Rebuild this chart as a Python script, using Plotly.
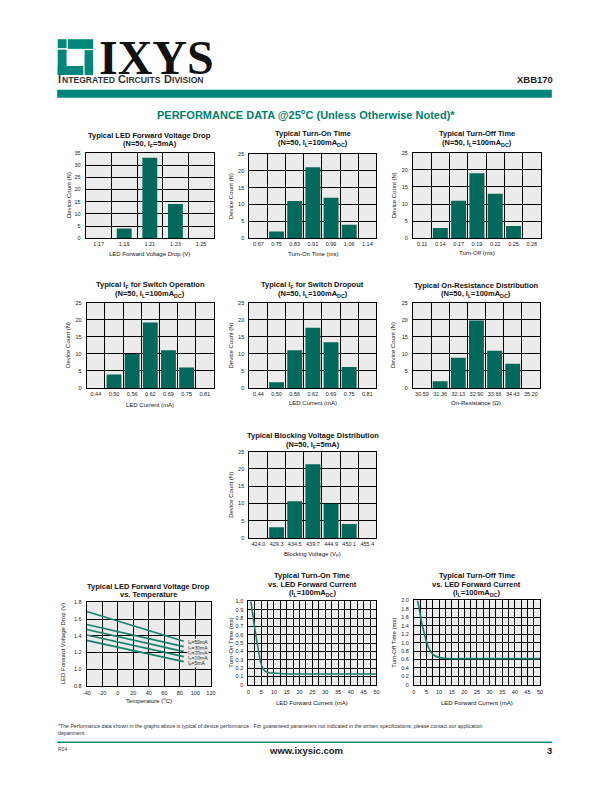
import plotly.graph_objects as go

W, H = 612, 792
TEAL = "#00877A"
TITLE_TEAL = "#00806E"
BAR = "#00695C"
LINE = "#17806F"
BG = "#EBEBEB"
FONT = "Liberation Sans, Arial, sans-serif"
NARROW = "Liberation Sans Narrow, Arial Narrow, Liberation Sans, sans-serif"

# ---------------- data ----------------
vf_cats = ["1.17", "1.19", "1.21", "1.23", "1.25"]
vf_counts = [0, 4, 33, 14, 0]

ton_cats = ["0.67", "0.75", "0.83", "0.91", "0.99", "1.06", "1.14"]
ton_counts = [0, 2, 11, 21, 12, 4, 0]

toff_cats = ["0.11", "0.14", "0.17", "0.19", "0.22", "0.25", "0.28"]
toff_counts = [0, 3, 11, 19, 13, 3.6, 0]

ifop_cats = ["0.44", "0.50", "0.56", "0.62", "0.69", "0.75", "0.81"]
ifop_counts = [0, 4, 10, 19.2, 11.1, 6, 0]

ifdrop_cats = ["0.44", "0.50", "0.56", "0.62", "0.69", "0.75", "0.81"]
ifdrop_counts = [0, 1.7, 11.1, 17.7, 13.4, 6.2, 0]

ron_cats = ["30.59", "31.36", "32.13", "32.90", "33.66", "34.43", "35.20"]
ron_counts = [0, 2, 8.9, 19.8, 10.9, 7.1, 0]

vb_cats = ["424.0", "429.3", "434.5", "439.7", "444.9", "450.1", "455.4"]
vb_counts = [0, 3.1, 10.6, 21.3, 9.9, 4, 0]

temp_c = [-40, 85]
vf_5ma = [1.345, 1.09]
vf_10ma = [1.41, 1.15]
vf_20ma = [1.475, 1.21]
vf_30ma = [1.535, 1.27]
vf_50ma = [1.69, 1.335]
vf_labels = ["I<sub>F</sub>=50mA", "I<sub>F</sub>=30mA", "I<sub>F</sub>=20mA",
             "I<sub>F</sub>=10mA", "I<sub>F</sub>=5mA"]

if_on = [1, 2, 3, 4, 5, 6, 7, 8, 10, 15, 20, 30, 40, 50]
ton_vs_if = [1.0, 0.78, 0.58, 0.40, 0.25, 0.18, 0.155, 0.145, 0.14, 0.13, 0.13, 0.13, 0.13, 0.13]

if_off = [1.4, 2, 3, 4, 5, 6, 7, 8, 10, 12, 15, 20, 30, 40, 50]
toff_vs_if = [2.0, 1.85, 1.5, 1.25, 1.02, 0.86, 0.76, 0.70, 0.65, 0.63, 0.62, 0.62, 0.62, 0.62, 0.62]


def px(x):
    return x / W


def py(y):
    return 1 - y / H


fig = go.Figure()
layout = dict(width=W, height=H, margin=dict(l=0, r=0, t=0, b=0),
              paper_bgcolor="white", plot_bgcolor=BG, showlegend=False,
              font=dict(family=FONT, color="#111"))
annotations = []
shapes = []


def ann(text, x, y, size, bold=False, color="#111", xanchor="center",
        yanchor="middle", angle=0, family=FONT, **kw):
    if bold:
        text = "<b>" + text + "</b>"
    d = dict(text=text, x=px(x), y=py(y), xref="paper", yref="paper",
             showarrow=False, xanchor=xanchor, yanchor=yanchor, borderpad=0,
             font=dict(size=size, color=color, family=family), textangle=angle)
    d.update(kw)
    annotations.append(d)


def title_lines(lines, cx, ys):
    for txt, yy in zip(lines, ys):
        ann(txt, cx, yy, 7.5, bold=True)


TICKF = dict(size=5.5, family=NARROW, color="#222")


def add_bar_chart(i, box, cats, vals, ymax, width, titles, title_ys,
                  xtitle, xtitle_y, ytitle, ytitle_x):
    l, t, r, b = box
    xa, ya = f"x{i}", f"y{i}"
    fig.add_trace(go.Bar(x=cats, y=vals, xaxis=xa, yaxis=ya, width=width,
                         marker=dict(color=BAR, line=dict(width=0))))
    layout[f"xaxis{i}"] = dict(domain=[px(l), px(r)], anchor=ya, type="category",
                               tickson="boundaries", showgrid=True, gridcolor="black",
                               gridwidth=1, showline=True, mirror=True, linecolor="black",
                               linewidth=1, ticks="outside", ticklen=1, tickangle=0,
                               tickcolor="rgba(0,0,0,0)", tickfont=TICKF,
                               fixedrange=True)
    layout[f"yaxis{i}"] = dict(domain=[py(b), py(t)], anchor=xa, range=[0, ymax],
                               tickvals=list(range(0, ymax + 1, 5)), showgrid=True,
                               gridcolor="black", gridwidth=1, zeroline=False,
                               showline=True, mirror=True, linecolor="black", linewidth=1,
                               ticks="outside", ticklen=3, tickcolor="rgba(0,0,0,0)",
                               tickfont=TICKF, fixedrange=True)
    cx = (l + r) / 2
    title_lines(titles, cx, title_ys)
    ann(xtitle, cx, xtitle_y, 6)
    ann(ytitle, ytitle_x, (t + b) / 2, 6, angle=-90)


SUB_DC = "(N=50, I<sub>L</sub>=100mA<sub>DC</sub>)"

add_bar_chart(1, (83, 151, 213, 237), vf_cats, vf_counts, 35, 0.58,
              ["Typical LED Forward Voltage Drop", "(N=50, I<sub>F</sub>=5mA)"], [133.5, 142.5],
              "LED Forward Voltage Drop (V)", 252.5, "Device Count (N)", 65.5)
add_bar_chart(2, (249, 152, 378, 237), ton_cats, ton_counts, 25, 0.82,
              ["Typical Turn-On Time", SUB_DC], [132, 141],
              "Turn-On Time (ms)", 252.5, "Device Count (N)", 230.5)
add_bar_chart(3, (415, 151, 545, 237), toff_cats, toff_counts, 25, 0.82,
              ["Typical Turn-Off Time", SUB_DC], [132, 141],
              "Turn-Off (ms)", 252, "Device Count (N)", 395.5)
add_bar_chart(4, (84, 302, 213, 388), ifop_cats, ifop_counts, 25, 0.82,
              ["Typical I<sub>F</sub> for Switch Operation", SUB_DC], [284.5, 293.5],
              "LED Current (mA)", 405, "Device Count (N)", 65.5)
add_bar_chart(5, (249, 302, 378, 388), ifdrop_cats, ifdrop_counts, 25, 0.82,
              ["Typical I<sub>F</sub> for Switch Dropout", SUB_DC], [284.5, 293.5],
              "LED Current (mA)", 403, "Device Count (N)", 230.5)
add_bar_chart(6, (415, 302, 544, 388), ron_cats, ron_counts, 25, 0.82,
              ["Typical On-Resistance Distribution", SUB_DC], [284.5, 293.5],
              "On-Resistance (Ω)", 403, "Device Count (N)", 395.5)
add_bar_chart(7, (249, 452, 378, 539), vb_cats, vb_counts, 25, 0.82,
              ["Typical Blocking Voltage Distribution", "(N=50, I<sub>F</sub>=5mA)"], [436, 445],
              "Blocking Voltage (V<sub>P</sub>)", 556, "Device Count (N)", 230.5)


def add_line_axes(i, box, xrange, xticks, xticktext, xgrid, yrange, yticks,
                  yticktext, titles, title_ys, xtitle, xtitle_y, ytitle, ytitle_x):
    l, t, r, b = box
    xa, ya = f"x{i}", f"y{i}"
    layout[f"xaxis{i}"] = dict(domain=[px(l), px(r)], anchor=ya, range=xrange,
                               tickvals=xticks, ticktext=xticktext, showgrid=False,
                               zeroline=False, showline=True, mirror=True,
                               linecolor="black", linewidth=1, ticks="outside",
                               ticklen=2, tickangle=0, tickcolor="rgba(0,0,0,0)",
                               tickfont=TICKF,
                               minor=dict(tickvals=xgrid, showgrid=True,
                                          gridcolor="black", gridwidth=1),
                               fixedrange=True)
    layout[f"yaxis{i}"] = dict(domain=[py(b), py(t)], anchor=xa, range=yrange,
                               tickvals=yticks, ticktext=yticktext, showgrid=True,
                               gridcolor="black", gridwidth=1, zeroline=False,
                               showline=True, mirror=True, linecolor="black",
                               linewidth=1, ticks="outside", ticklen=3,
                               tickcolor="rgba(0,0,0,0)", tickfont=TICKF,
                               fixedrange=True)
    cx = (l + r) / 2
    title_lines(titles, cx, title_ys)
    ann(xtitle, cx, xtitle_y, 6)
    ann(ytitle, ytitle_x, (t + b) / 2, 6, angle=-90)


# chart 8: VF vs temperature
add_line_axes(8, (84, 604, 210, 688), [-40, 120], list(range(-40, 121, 20)),
              [str(v) for v in range(-40, 121, 20)], list(range(-40, 121, 20)),
              [0.8, 1.8], [0.8, 1.0, 1.2, 1.4, 1.6, 1.8],
              ["0.8", "1.0", "1.2", "1.4", "1.6", "1.8"],
              ["Typical LED Forward Voltage Drop", "vs. Temperature"], [587.5, 596],
              "Temperature (<sup>o</sup>C)", 702, "LED Forward Voltage Drop (V)", 60)
for ys in [vf_50ma, vf_30ma, vf_20ma, vf_10ma, vf_5ma]:
    fig.add_trace(go.Scatter(x=temp_c, y=ys, mode="lines", xaxis="x8", yaxis="y8",
                             line=dict(color=LINE, width=1.6)))
label_y = [1.316, 1.253, 1.193, 1.132, 1.072]
for txt, yv in zip(vf_labels, label_y):
    annotations.append(dict(text=txt, x=89, y=yv, xref="x8", yref="y8",
                            showarrow=False, xanchor="left", yanchor="middle",
                            bgcolor=BG, borderpad=0,
                            font=dict(size=5, family=NARROW, color="#222")))

IL_DC = "(I<sub>L</sub>=100mA<sub>DC</sub>)"

# chart 9: turn-on vs IF
add_line_axes(9, (248, 603, 378, 687), [0, 50], list(range(0, 51, 5)),
              [str(v) for v in range(0, 51, 5)], [v * 2.5 for v in range(21)],
              [0, 1.0], [v / 10 for v in range(11)],
              ["0"] + [f"{v/10:.1f}" for v in range(1, 11)],
              ["Typical Turn-On Time", "vs. LED Forward Current", IL_DC], [577, 585.5, 594.5],
              "LED Forward Current (mA)", 705, "Turn-On Time (ms)", 231)
fig.add_trace(go.Scatter(x=if_on, y=ton_vs_if, mode="lines", xaxis="x9", yaxis="y9",
                         line=dict(color=LINE, width=1.6, shape="spline", smoothing=0.8)))

# chart 10: turn-off vs IF
add_line_axes(10, (416, 602, 544, 687), [0, 50], list(range(0, 51, 5)),
              [str(v) for v in range(0, 51, 5)], [v * 2.5 for v in range(21)],
              [0, 2.0], [v / 5 for v in range(11)],
              ["0"] + [f"{v/5:.1f}" for v in range(1, 11)],
              ["Typical Turn-Off Time", "vs. LED Forward Current", IL_DC], [577, 585.5, 594.5],
              "LED Forward Current (mA)", 705, "Turn-Off Time (ms)", 395)
fig.add_trace(go.Scatter(x=if_off, y=toff_vs_if, mode="lines", xaxis="x10", yaxis="y10",
                         line=dict(color=LINE, width=1.6, shape="spline", smoothing=0.8)))

# ---------------- header ----------------
def rect(x0, y0, x1, y1, color):
    shapes.append(dict(type="rect", xref="paper", yref="paper", x0=px(x0), x1=px(x1),
                       y0=py(y1), y1=py(y0), fillcolor=color, line=dict(width=0),
                       layer="above"))


# logo blocks
rect(54.5, 36.5, 63.5, 45.5, TEAL)
rect(64.8, 36.5, 90.5, 46.2, TEAL)
rect(54.5, 47, 63.5, 72.5, TEAL)
rect(54.5, 63.5, 80.5, 72.5, TEAL)
rect(81.8, 47.5, 90.5, 72.5, TEAL)

ann("<b>IXYS</b>", 95, 54, 48, family="Liberation Serif, Times New Roman, serif",
    xanchor="left", color="#111", height=36, valign="middle")

# small-caps division name, laid out piece by piece (Arial-bold advance widths)
BOLD_W = {"I": .278, "N": .722, "T": .611, "E": .667, "G": .778, "R": .722, "A": .722,
          "D": .722, "C": .722, "U": .722, "S": .667, "V": .667, "O": .778, " ": .278}
CAP, SMALL = 11.0, 8.6
pieces = [("I", CAP), ("NTEGRATED", SMALL), (" ", CAP), ("C", CAP), ("IRCUITS", SMALL),
          (" ", CAP), ("D", CAP), ("IVISION", SMALL)]
xcur = 54.0
for txt, sz in pieces:
    wpx = sum(BOLD_W[c] for c in txt) * sz
    if txt.strip():
        ann(txt, xcur, 84, sz, bold=True, xanchor="left", yanchor="bottom",
            color="#333")
    xcur += wpx + 0.4

ann("XBB170", 558, 77, 9.5, bold=True, xanchor="right", family=NARROW, color="#222")
rect(54, 87.5, 556, 95.5, TEAL)
ann("PERFORMANCE DATA @25<sup>o</sup>C (Unless Otherwise Noted)*", 306, 111.5, 11,
    bold=True, color=TITLE_TEAL)

# ---------------- footer ----------------
ann("*The Performance data shown in the graphs above is typical of device performance.  "
    "For guaranteed parameters not indicated in the written specifications, please contact our application"
    "<br>department.", 54, 732, 5.2, xanchor="left", align="left", family=NARROW,
    color="#333")
shapes.append(dict(type="line", xref="paper", yref="paper", x0=px(54), x1=px(556),
                   y0=py(745), y1=py(745), line=dict(color=TEAL, width=1.5)))
ann("R04", 54, 752, 5, xanchor="left", family=NARROW, color="#444")
ann("www.ixysic.com", 306, 753, 9.5, bold=True, color="#222")
ann("3", 557, 753, 9.5, bold=True, xanchor="right", color="#222")

layout["annotations"] = annotations
layout["shapes"] = shapes
fig.update_layout(**layout)
fig.write_html("out.html", config={"displayModeBar": False},
               post_script="document.body.style.margin='0';document.body.style.overflow='hidden';")
